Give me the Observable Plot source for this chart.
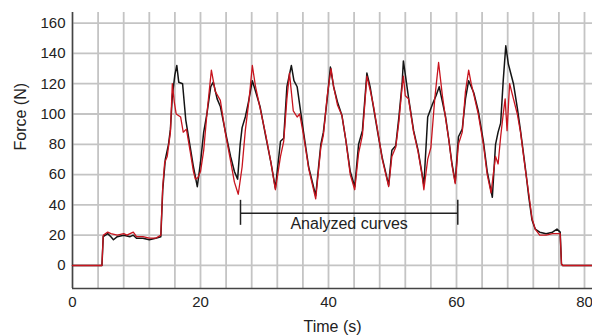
<!DOCTYPE html>
<html>
<head>
<meta charset="utf-8">
<script src="https://cdn.jsdelivr.net/npm/d3@7"></script>
<script src="https://cdn.jsdelivr.net/npm/@observablehq/plot@0.6"></script>
<style>
  html, body { margin: 0; padding: 0; background: #fff; }
  #chart svg { display: block; }
</style>
</head>
<body>
<div id="chart"></div>
<script>
// ---- Data ----
const timeBlack = [0, 4.6, 4.8, 5.5, 6, 6.4, 7, 8, 9, 9.5, 10, 11, 12, 13, 13.8, 14.1, 14.5, 15, 15.3, 15.6, 16, 16.3, 16.6, 17.2, 17.7, 18.4, 18.9, 19.5, 20, 20.5, 21, 21.6, 22, 22.6, 23.1, 23.9, 24.7, 25.3, 25.8, 26.2, 26.5, 27, 27.5, 28.1, 28.6, 29.3, 30.2, 31, 31.7, 32.5, 33, 33.5, 34.2, 34.6, 35.1, 36.1, 36.9, 38, 38.8, 39.2, 39.8, 40.3, 40.8, 41.4, 42.1, 42.7, 43.4, 44.1, 44.7, 45.3, 46, 46.5, 47, 47.8, 48.4, 49.4, 49.9, 50.5, 51, 51.5, 51.7, 52.5, 53.3, 54, 54.6, 54.9, 55.5, 56.2, 56.8, 57.3, 57.8, 58.3, 58.8, 59.3, 59.8, 60.3, 60.9, 61.4, 61.9, 62.7, 63.4, 64.2, 64.8, 65.6, 66.1, 66.5, 66.9, 67.3, 67.7, 68.1, 68.9, 69.5, 70, 70.8, 71.3, 71.8, 72.3, 73, 74, 75, 75.7, 76.2, 76.4, 76.6, 78, 81.25];
const forceBlack = [0, 0, 19, 21, 19, 17, 19, 20, 19, 20, 18, 18, 17, 18, 19, 50, 70, 80, 90, 112, 126, 132, 121, 120, 96, 78, 65, 52, 68, 88, 100, 118, 121, 110, 105, 88, 72, 62, 57, 80, 91, 98, 108, 122, 115, 105, 85, 68, 51, 82, 84, 118, 132, 122, 118, 88, 65, 46, 80, 88, 110, 131, 118, 108, 99, 83, 62, 52, 80, 89, 127, 118, 105, 85, 71, 53, 76, 79, 98, 120, 135, 111, 89, 76, 61, 53, 98, 106, 112, 118, 108, 98, 83, 67, 55, 85, 90, 110, 122, 114, 102, 82, 62, 45, 80, 88, 94, 122, 145, 133, 120, 104, 89, 63, 45, 30, 24, 22, 21, 22, 24, 22, 1, 0, 0, 0];

const timeRed = [0, 4.6, 4.8, 5.5, 6, 7, 8, 8.5, 9, 9.5, 10, 11, 12, 13, 13.8, 14.1, 14.4, 14.8, 15.3, 15.6, 15.9, 16.2, 16.9, 17.3, 17.8, 18.4, 18.9, 19.2, 19.6, 20, 20.5, 21, 21.7, 22.3, 23.1, 23.9, 24.7, 25.3, 25.9, 26.5, 27, 27.6, 28.1, 28.6, 29.3, 30.2, 31, 31.7, 32.5, 33, 33.5, 33.9, 34.5, 35.1, 35.5, 36.1, 36.9, 38, 38.8, 39.2, 39.8, 40.4, 40.8, 41.4, 42.1, 42.7, 43.4, 44.1, 44.7, 45.3, 46, 46.5, 47, 47.8, 48.4, 49.4, 49.9, 50.5, 51, 51.5, 51.7, 52, 52.5, 53.3, 54, 54.6, 54.9, 55.5, 56, 56.6, 57.2, 57.8, 58.3, 58.8, 59.3, 59.8, 60.3, 60.9, 61.4, 61.9, 62.3, 62.7, 63.4, 64.2, 64.8, 65.4, 65.8, 66.1, 66.5, 66.9, 67.3, 67.6, 67.9, 68.3, 68.9, 69.5, 70, 70.8, 71.3, 71.8, 72.3, 73, 74, 75, 75.7, 76.2, 76.4, 76.6, 78, 81.25];
const forceRed = [0, 0, 20, 22, 21, 20, 21, 20, 21, 22, 19, 19, 18, 18, 20, 52, 68, 72, 88, 120, 108, 100, 98, 88, 90, 75, 62, 57, 58, 62, 76, 100, 129, 115, 109, 87, 69, 55, 47, 65, 89, 110, 132, 118, 104, 86, 68, 50, 72, 82, 110, 127, 102, 98, 100, 86, 64, 44, 78, 86, 112, 130, 118, 106, 99, 83, 60, 50, 74, 86, 125, 116, 106, 86, 70, 52, 72, 78, 95, 118, 125, 112, 110, 88, 75, 60, 50, 70, 78, 110, 134, 112, 97, 83, 66, 54, 80, 88, 115, 129, 120, 113, 100, 80, 60, 48, 62, 72, 67, 85, 100, 110, 89, 120, 110, 100, 88, 62, 47, 31, 24, 20, 20, 21, 21, 21, 1, 0, 0, 0];

const xTicks = [0, 20, 40, 60, 80];
const yTicks = [0, 20, 40, 60, 80, 100, 120, 140, 160];
const xGrid = d3.range(0, 81, 4);
const yGrid = yTicks;

const bracketStart = 26.25;
const bracketEnd = 60.2;
const bracketLevel = 34.5;
const bracketTickLow = 26.5;
const bracketTickHigh = 43;
const annotationText = "Analyzed curves";
const annotationLevel = 27.5;

// ---- Build tables ----
const black = timeBlack.map((t, i) => ({t, f: forceBlack[i]}));
const red = timeRed.map((t, i) => ({t, f: forceRed[i]}));

const chart = Plot.plot({
  width: 592,
  height: 335,
  marginLeft: 72,
  marginRight: 0,
  marginTop: 12,
  marginBottom: 47,
  style: {fontFamily: "'Liberation Sans', Arial, sans-serif", fontSize: "15px", color: "#222", background: "#fff"},
  x: {domain: [0, 81.25]},
  y: {domain: [-15.2, 167]},
  marks: [
    Plot.ruleX(xGrid, {stroke: "#c4c4c4", strokeWidth: 1.8}),
    Plot.ruleY(yGrid, {stroke: "#c4c4c4", strokeWidth: 1.8}),
    Plot.axisX({ticks: xTicks, tickSize: 0, tickPadding: 8, label: null, fontSize: 15}),
    Plot.axisY({ticks: yTicks, tickSize: 0, tickPadding: 7, label: null, fontSize: 15}),
    Plot.ruleX([0], {stroke: "#444", strokeWidth: 1.5}),
    Plot.ruleY([-15.2], {stroke: "#444", strokeWidth: 1.5}),
    Plot.line(black, {x: "t", y: "f", stroke: "#141414", strokeWidth: 1.5}),
    Plot.line(red, {x: "t", y: "f", stroke: "#c8141e", strokeWidth: 1.3}),
    Plot.ruleY([bracketLevel], {x1: bracketStart, x2: bracketEnd, stroke: "#222", strokeWidth: 1.5}),
    Plot.ruleX([bracketStart, bracketEnd], {y1: bracketTickLow, y2: bracketTickHigh, stroke: "#222", strokeWidth: 1.5}),
    Plot.text([annotationText], {x: (bracketStart + bracketEnd) / 2, y: annotationLevel, fontSize: 16, fill: "#222", lineAnchor: "middle"}),
    Plot.text(["Time (s)"], {frameAnchor: "bottom", dy: 38, fontSize: 16, fill: "#222", lineAnchor: "middle"}),
    Plot.text(["Force (N)"], {frameAnchor: "left", dx: -52, rotate: -90, fontSize: 16, fill: "#222", lineAnchor: "middle"})
  ]
});
document.getElementById("chart").appendChild(chart);
</script>
</body>
</html>
